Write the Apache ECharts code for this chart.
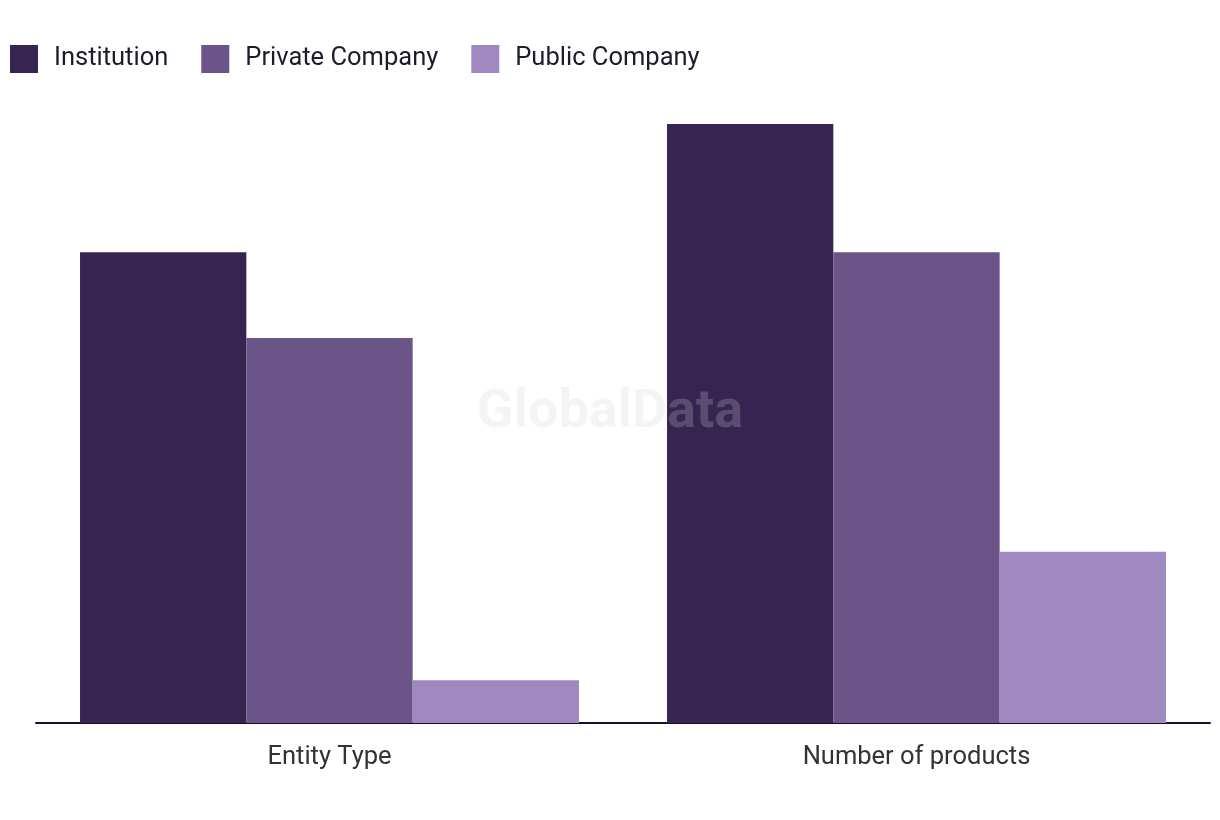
<!DOCTYPE html>
<html><head><meta charset="utf-8">
<script src="https://cdn.jsdelivr.net/npm/echarts@6/dist/echarts.min.js"></script>
<style>html,body{margin:0;padding:0;background:#fff}#c{width:1220px;height:820px}</style>
</head><body><div id="c"></div>
<script>
const categories = ["Entity Type", "Number of products"];
const seriesNames = ["Institution", "Private Company", "Public Company"];
const institution = [11, 14];
const privateCompany = [9, 11];
const publicCompany = [1, 4];
const colors = ["#362451", "#6a5488", "#a088c0"];

const chart = echarts.init(document.getElementById('c'));
const values = [institution, privateCompany, publicCompany];
chart.setOption({
  animation: false,
  color: colors,
  legend: {
    left: 10, top: 45, padding: 0,
    itemWidth: 28, itemHeight: 28, itemGap: 33,
    icon: 'rect',
    textStyle: { fontFamily: 'Roboto', fontSize: 25.5, color: '#1e1b2e', padding: [4, 0, 0, 11] },
    data: seriesNames
  },
  graphic: [{
    type: 'text', x: 610, y: 413, z: 100,
    style: { text: 'GlobalData', fontFamily: 'Roboto', fontWeight: 'bold', fontSize: 54,
             align: 'center', verticalAlign: 'middle',
             fill: 'rgba(209,209,209,0.24)' }
  }],
  grid: { left: 36, right: 10, top: 124, bottom: 97 },
  xAxis: {
    type: 'category', data: categories,
    axisLine: { lineStyle: { color: '#17122a', width: 2 } },
    axisTick: { show: false },
    axisLabel: { fontFamily: 'Roboto', fontSize: 25.5, color: '#333333', margin: 22 }
  },
  yAxis: { type: 'value', min: 0, max: 14, show: false, splitLine: { show: false } },
  series: seriesNames.map((n, i) => ({
    name: n, type: 'bar', data: values[i],
    barGap: '0%', barCategoryGap: '15%'
  }))
});
</script></body></html>
